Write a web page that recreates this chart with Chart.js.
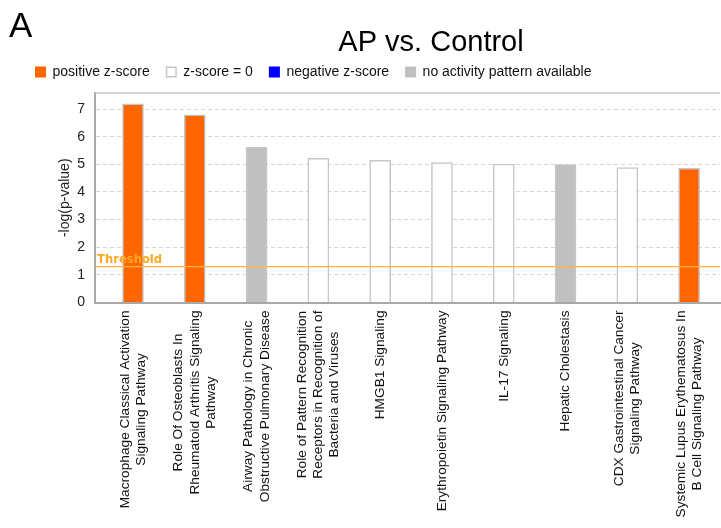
<!DOCTYPE html>
<html><head><meta charset="utf-8">
<script src="https://cdn.jsdelivr.net/npm/chart.js@4/dist/chart.umd.min.js"></script>
<style>html,body{margin:0;padding:0;background:#fff;overflow:hidden}#wrap{width:721px;height:528px;position:relative}canvas{display:block}</style>
</head><body><div id="wrap"><canvas id="c" width="721" height="528"></canvas></div>
<script>
// ---- data ----
const categories = [
  ["Macrophage Classical Activation", "Signaling Pathway"],
  ["Role Of Osteoblasts In", "Rheumatoid Arthritis Signaling", "Pathway"],
  ["Airway Pathology in Chronic", "Obstructive Pulmonary Disease"],
  ["Role of Pattern Recognition", "Receptors in Recognition of", "Bacteria and Viruses"],
  ["HMGB1 Signaling"],
  ["Erythropoietin Signaling Pathway"],
  ["IL-17 Signaling"],
  ["Hepatic Cholestasis"],
  ["CDX Gastrointestinal Cancer", "Signaling Pathway"],
  ["Systemic Lupus Erythematosus In", "B Cell Signaling Pathway"]
];
const values = [7.19, 6.79, 5.61, 5.22, 5.14, 5.06, 5.01, 4.99, 4.88, 4.85];
const zStatus = ["positive", "positive", "none", "zero", "zero", "zero", "zero", "none", "zero", "positive"];
const threshold = 1.3;
const yTicks = [0, 1, 2, 3, 4, 5, 6, 7];
const legendLabels = ["positive z-score", "z-score = 0", "negative z-score", "no activity pattern available"];
const legendKeys = ["positive", "zero", "negative", "none"];
const chartTitle = "AP vs. Control";
const panelLetter = "A";
const yTitle = "-log(p-value)";
const thresholdLabel = "Threshold";

// ---- styles ----
const FILL = { positive: "#FF6600", zero: "#FFFFFF", negative: "#0000FF", none: "#C0C0C0" };
const FONT = '"Liberation Sans", Arial, Helvetica, sans-serif';

const decor = {
  id: "decor",
  afterDraw(chart) {
    const { ctx, chartArea: a, scales: { x, y } } = chart;
    ctx.save();
    // top frame line
    ctx.strokeStyle = "#c4c4c4"; ctx.lineWidth = 1.5;
    ctx.beginPath(); ctx.moveTo(a.left, a.top); ctx.lineTo(a.right, a.top); ctx.stroke();
    // threshold
    const ty = y.getPixelForValue(threshold);
    ctx.strokeStyle = "#FFB440"; ctx.lineWidth = 1.2;
    ctx.beginPath(); ctx.moveTo(a.left, ty); ctx.lineTo(a.right, ty); ctx.stroke();
    ctx.fillStyle = "#FFA820";
    ctx.font = 'bold 11.6px "DejaVu Sans", Verdana, sans-serif';
    ctx.textAlign = "left"; ctx.textBaseline = "alphabetic";
    ctx.fillText(thresholdLabel, a.left + 2, ty - 4);
    // category labels (rotated, lines centered)
    ctx.fillStyle = "#111";
    ctx.font = "13.7px " + FONT;
    const lh = 16.3;
    categories.forEach((lines, i) => {
      const cx = x.getPixelForValue(i);
      const n = lines.length;
      const maxW = Math.max(...lines.map(l => ctx.measureText(l).width));
      const cy = a.bottom + 8 + maxW / 2;
      lines.forEach((l, j) => {
        ctx.save();
        ctx.translate(cx + (j - (n - 1) / 2) * lh, cy);
        ctx.rotate(-Math.PI / 2);
        ctx.textAlign = "center"; ctx.textBaseline = "middle";
        ctx.fillText(l, 0, 0);
        ctx.restore();
      });
    });
    // panel letter
    ctx.fillStyle = "#000";
    ctx.textAlign = "left"; ctx.textBaseline = "alphabetic";
    ctx.font = "35px " + FONT;
    ctx.fillText(panelLetter, 9, 37);
    // title
    ctx.font = "29px " + FONT;
    ctx.textAlign = "center";
    ctx.fillText(chartTitle, 431, 51);
    // legend
    ctx.font = "14px " + FONT;
    ctx.textAlign = "left"; ctx.textBaseline = "middle";
    let lx = 35;
    const ly = 72, bs = 11;
    legendKeys.forEach((k, i) => {
      ctx.fillStyle = FILL[k];
      ctx.fillRect(lx, ly - bs / 2, bs, bs);
      if (k === "zero") {
        ctx.strokeStyle = "#c8c8c8"; ctx.lineWidth = 1.5;
        ctx.strokeRect(lx + 0.75, ly - bs / 2 + 0.75, bs - 1.5, bs - 1.5);
      }
      ctx.fillStyle = "#111";
      ctx.fillText(legendLabels[i], lx + bs + 6.5, ly);
      lx += bs + 6.5 + ctx.measureText(legendLabels[i]).width + 16;
    });
    ctx.restore();
  }
};

new Chart(document.getElementById("c"), {
  type: "bar",
  data: {
    datasets: [{
      data: categories.map((c, i) => ({ x: i, y: values[i] })),
      backgroundColor: zStatus.map(s => FILL[s]),
      borderColor: "#c6c6c6",
      borderWidth: 1.5,
      barThickness: 21
    }]
  },
  options: {
    responsive: false,
    devicePixelRatio: 1,
    animation: false,
    layout: { padding: { top: 93, right: 1, bottom: 0, left: 0 } },
    plugins: { legend: { display: false }, tooltip: { enabled: false }, title: { display: false } },
    scales: {
      x: {
        type: "linear",
        offset: false,
        min: -0.615,
        max: 9.5,
        ticks: { display: false },
        grid: { display: false },
        border: { display: true, color: "#a8a8a8", width: 2 },
        afterFit(axis) { axis.height = 225.5; }
      },
      y: {
        min: 0,
        max: 7.58,
        afterBuildTicks(axis) { axis.ticks = yTicks.map(v => ({ value: v })); },
        ticks: { color: "#222", font: { family: FONT, size: 14 }, padding: 10 },
        grid: { color: "#d6d6d6", lineWidth: 1, drawTicks: false, tickBorderDash: [4, 3] },
        border: { display: true, color: "#a8a8a8", width: 2, dash: [4, 3] },
        title: { display: true, text: yTitle, color: "#222", font: { family: FONT, size: 14 }, padding: { top: 57, bottom: 0 } },
        afterFit(axis) { axis.width = 95; }
      }
    }
  },
  plugins: [decor]
});
</script>
</body></html>
